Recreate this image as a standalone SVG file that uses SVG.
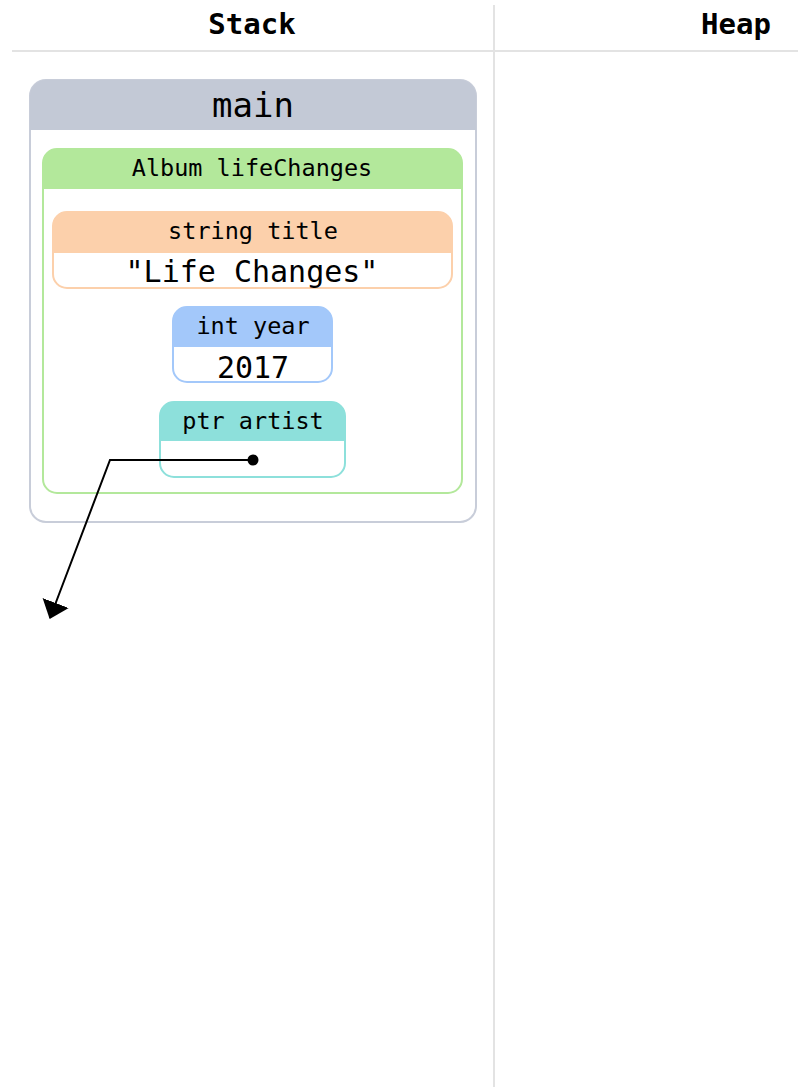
<svg xmlns="http://www.w3.org/2000/svg" width="803" height="1087" viewBox="0 0 803 1087">
  <style>
    text { font-family: "DejaVu Sans Mono", "Liberation Mono", monospace; fill: #000; text-anchor: middle; }
    .col { font-size: 29px; font-weight: bold; }
    .frame { font-size: 34px; }
    .label { font-size: 23.5px; }
    .value { font-size: 30px; }
    .rule { stroke: #e3e3e3; stroke-width: 2; fill: none; }
    .wire { stroke: #000; stroke-width: 2; fill: none; }
  </style>
  <defs>
    <marker id="arrow" viewBox="0 0 17 28" refX="16" refY="14" markerWidth="17" markerHeight="28" markerUnits="userSpaceOnUse" orient="auto">
      <path d="M0,0 L17,14 L0,28 Z" fill="#000"/>
    </marker>
  </defs>

  <rect x="0" y="0" width="803" height="1087" fill="#fff"/>

  <!-- column headings -->
  <g id="columns">
    <line class="rule" x1="12" y1="51" x2="798" y2="51"/>
    <line class="rule" x1="494" y1="5" x2="494" y2="1087"/>
    <text class="col" x="252" y="34">Stack</text>
    <text class="col" x="736" y="34">Heap</text>
  </g>

  <!-- stack frame: main -->
  <g id="main">
    <rect x="30" y="80" width="446" height="442" rx="16" fill="#fff" stroke="#c8cdd9" stroke-width="2"/>
    <path d="M30,130 V96 a16,16 0 0 1 16,-16 H460 a16,16 0 0 1 16,16 V130 Z" fill="#c3c9d6"/>
    <text class="frame" x="253" y="117">main</text>
  </g>

  <!-- struct: Album lifeChanges -->
  <g id="lifeChanges">
    <rect x="43" y="149" width="419" height="344" rx="14" fill="#fff" stroke="#b3e89b" stroke-width="2"/>
    <path d="M43,189 V163 a14,14 0 0 1 14,-14 H448 a14,14 0 0 1 14,14 V189 Z" fill="#b3e89b"/>
    <text class="label" x="252" y="176">Album lifeChanges</text>
  </g>

  <!-- field: string title -->
  <g id="title">
    <rect x="53" y="212" width="399" height="76" rx="14" fill="#fff" stroke="#fcd0ab" stroke-width="2"/>
    <path d="M53,253 V226 a14,14 0 0 1 14,-14 H438 a14,14 0 0 1 14,14 V253 Z" fill="#fcd0ab"/>
    <text class="label" x="253" y="239">string title</text>
    <text class="value" x="252" y="282">"Life Changes"</text>
  </g>

  <!-- field: int year -->
  <g id="year">
    <rect x="173" y="307" width="159" height="75" rx="14" fill="#fff" stroke="#a3c8fa" stroke-width="2"/>
    <path d="M173,347 V321 a14,14 0 0 1 14,-14 H318 a14,14 0 0 1 14,14 V347 Z" fill="#a3c8fa"/>
    <text class="label" x="253" y="334">int year</text>
    <text class="value" x="253" y="378">2017</text>
  </g>

  <!-- field: ptr artist -->
  <g id="artist">
    <rect x="160" y="402" width="185" height="75" rx="14" fill="#fff" stroke="#8de0db" stroke-width="2"/>
    <path d="M160,441 V416 a14,14 0 0 1 14,-14 H331 a14,14 0 0 1 14,14 V441 Z" fill="#8de0db"/>
    <text class="label" x="253" y="429">ptr artist</text>
  </g>

  <!-- pointer connectors -->
  <g id="connectors">
    <path class="wire" d="M253,460 H110 L50,618" marker-end="url(#arrow)"/>
    <circle cx="253" cy="460" r="5.5" fill="#000"/>
  </g>
</svg>
